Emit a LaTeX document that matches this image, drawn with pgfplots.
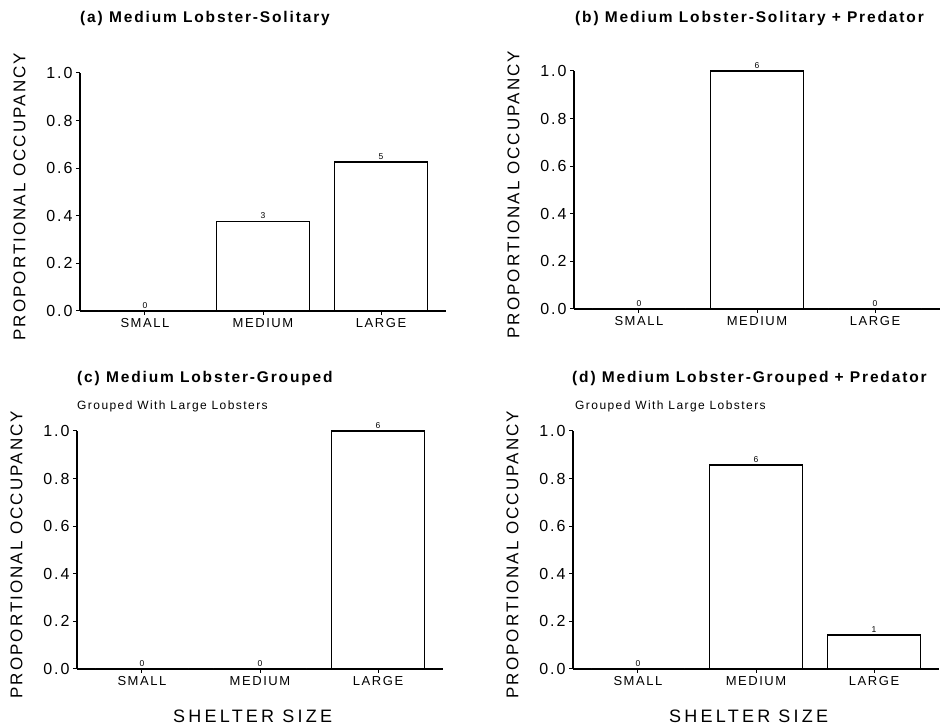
\documentclass[border=0pt]{standalone}
\usepackage{fontspec}
\setmainfont{Liberation Sans}[LetterSpace=12]
\usepackage{pgfplots}
\pgfplotsset{compat=1.18}
\pgfplotsset{
  lob/.style={
    scale only axis, width=366pt, height=238pt,
    axis lines=left, axis line style={-, line width=1.2pt},
    xmin=-0.55, xmax=2.55, ymin=0, ymax=1,
    xtick={0,1,2}, xticklabels={SMALL,MEDIUM,LARGE},
    ytick={0,0.2,0.4,0.6,0.8,1},
    yticklabel style={font=\fontsize{16}{16}\selectfont,
      /pgf/number format/fixed, /pgf/number format/fixed zerofill,
      /pgf/number format/precision=1, /pgf/number format/assume math mode=true},
    tick align=outside, major tick length=4pt,
    tick style={black, line width=1pt},
    xticklabel style={font=\fontsize{13}{13}\selectfont},
    ylabel={PROPORTIONAL OCCUPANCY},
    ylabel style={font=\fontsize{17}{17}\selectfont, at={(axis description cs:-0.165,0.48)}, anchor=center},
    clip=false,
  },
  lobbar/.style={ybar, bar width=0.79, fill=white, draw=black, line width=1.5pt,
    nodes near coords, point meta=explicit symbolic,
    nodes near coords style={font=\fontsize{8.5}{8.5}\selectfont, anchor=south, inner sep=2pt, text=black}},
  shelter/.style={xlabel={\addfontfeature{LetterSpace=18}SHELTER SIZE},
    xlabel style={font=\fontsize{18}{18}\selectfont, at={(axis description cs:0.48,-0.2)}, anchor=center}},
}
\begin{document}
\begin{tikzpicture}
\useasboundingbox (0,0) rectangle (949pt,727pt);
% (a)
\begin{axis}[lob, at={(80pt,416pt)}, anchor=south west]
\addplot[lobbar] coordinates {(0,0)[0] (1,0.375)[3] (2,0.625)[5]};
\end{axis}
% (b)
\begin{axis}[lob, at={(574pt,418pt)}, anchor=south west]
\addplot[lobbar] coordinates {(0,0)[0] (1,1.0)[6] (2,0)[0]};
\end{axis}
% (c)
\begin{axis}[lob, shelter, at={(77pt,58pt)}, anchor=south west]
\addplot[lobbar] coordinates {(0,0)[0] (1,0)[0] (2,1.0)[6]};
\end{axis}
% (d)
\begin{axis}[lob, shelter, at={(573pt,58pt)}, anchor=south west]
\addplot[lobbar] coordinates {(0,0)[0] (1,0.857)[6] (2,0.143)[1]};
\end{axis}
\node[anchor=base west, font=\bfseries\fontsize{15.5}{16}\selectfont, inner sep=0pt] at (80pt,704pt) {(a) Medium Lobster-Solitary};
\node[anchor=base west, font=\bfseries\fontsize{15.5}{16}\selectfont, inner sep=0pt] at (575pt,704pt) {(b) Medium Lobster-Solitary + Predator};
\node[anchor=base west, font=\bfseries\fontsize{15.5}{16}\selectfont, inner sep=0pt] at (77pt,344pt) {(c) Medium Lobster-Grouped};
\node[anchor=base west, font=\fontsize{12}{12}\selectfont, inner sep=0pt] at (77pt,317pt) {Grouped With Large Lobsters};
\node[anchor=base west, font=\bfseries\fontsize{15.5}{16}\selectfont, inner sep=0pt] at (572pt,344pt) {(d) Medium Lobster-Grouped + Predator};
\node[anchor=base west, font=\fontsize{12}{12}\selectfont, inner sep=0pt] at (575pt,317pt) {Grouped With Large Lobsters};
\end{tikzpicture}
\end{document}
